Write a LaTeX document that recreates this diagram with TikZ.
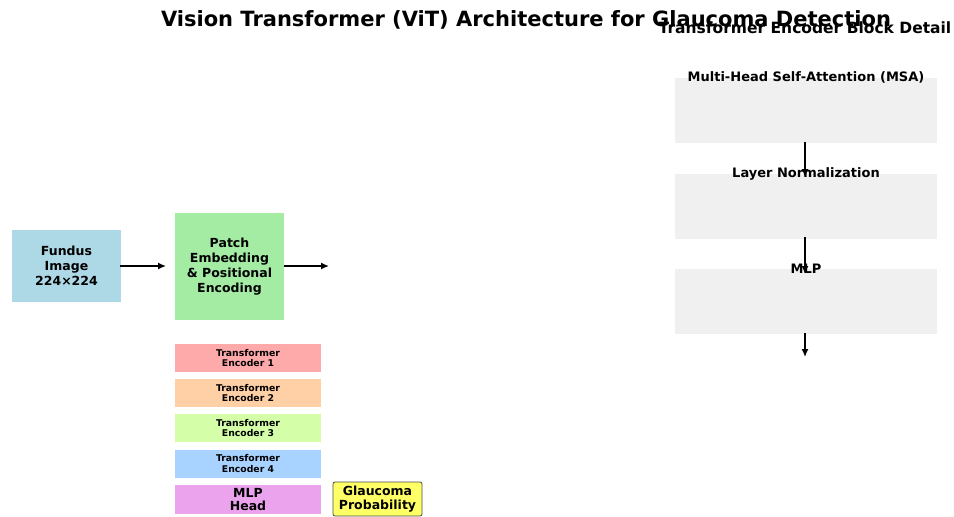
\documentclass[tikz,border=0pt]{standalone}
\usepackage{fontspec}
\setmainfont{DejaVu Sans}
\usetikzlibrary{arrows.meta}
\definecolor{fundus}{HTML}{ADD8E6}
\definecolor{patch}{HTML}{A4EBA4}
\definecolor{encA}{HTML}{FFAAAA}
\definecolor{encB}{HTML}{FFCFA6}
\definecolor{encC}{HTML}{D4FFA8}
\definecolor{encD}{HTML}{A8D2FF}
\definecolor{mlphead}{HTML}{EBA3EE}
\definecolor{prob}{HTML}{FFFF66}
\definecolor{blockgray}{HTML}{F0F0F0}
\tikzset{
  box/.style={draw=none, minimum width=#1, align=center, inner sep=0pt, font=\bfseries},
  enc/.style={box=146pt, minimum height=28pt, font=\bfseries\fontsize{9.3}{10.5}\selectfont},
  blk/.style={fill=blockgray, draw=none, minimum width=262pt, minimum height=65pt, inner sep=0pt},
  blklabel/.style={font=\bfseries\fontsize{13}{15}\selectfont},
  boxtext/.style={font=\bfseries\fontsize{12.5}{15}\selectfont},
  flow/.style={-{Latex[length=8pt,width=7pt]}, line width=1.4pt, black},
}
\begin{document}
\begin{tikzpicture}[x=1pt,y=-1pt]
\useasboundingbox (0,0) rectangle (954,517);

% main title and side panel title
\node[font=\bfseries\fontsize{21}{24}\selectfont] (title) at (526,20) {Vision Transformer (ViT) Architecture for Glaucoma Detection};
\node[font=\bfseries\fontsize{15.5}{18}\selectfont] (sidetitle) at (805,28) {Transformer Encoder Block Detail};

% input and embedding
\node[box=109pt, minimum height=72pt, fill=fundus, boxtext] (fundus) at (66.5,266) {Fundus\\Image\\224×224};
\node[box=109pt, minimum height=107pt, fill=patch, boxtext] (patch) at (229.5,266.5) {Patch\\Embedding\\\& Positional\\Encoding};
\coordinate (a1s) at (120,266);
\coordinate (a1e) at (166,266);
\coordinate (a2s) at (284,266);
\coordinate (a2e) at (329,266);
\draw[flow] (a1s) -- (a1e);
\draw[flow] (a2s) -- (a2e);

% encoder stack
\node[enc, fill=encA] (e1) at (248,358) {Transformer\\Encoder 1};
\node[enc, fill=encB] (e2) at (248,393) {Transformer\\Encoder 2};
\node[enc, fill=encC] (e3) at (248,428) {Transformer\\Encoder 3};
\node[enc, fill=encD] (e4) at (248,463.5) {Transformer\\Encoder 4};
\node[box=146pt, minimum height=29pt, fill=mlphead, font=\bfseries\fontsize{12.5}{13.5}\selectfont] (head) at (248,499.5) {MLP\\Head};
\node[draw=black!70, line width=0.8pt, rounded corners=2pt, fill=prob, minimum width=89pt, minimum height=34pt, align=center, inner sep=0pt, font=\bfseries\fontsize{12.5}{13.5}\selectfont] (prob) at (377.5,499) {Glaucoma\\Probability};

% encoder block detail
\node[blk] (msa) at (806,110.5) {};
\node[blk] (ln) at (806,206.5) {};
\node[blk] (mlp) at (806,301.5) {};
\node[blklabel] (msal) at (msa.north) {Multi-Head Self-Attention (MSA)};
\node[blklabel] (lnl) at (ln.north) {Layer Normalization};
\node[blklabel] (mlpl) at (mlp.north) {MLP};
\coordinate (b1s) at (805,142);
\coordinate (b1e) at (805,177);
\coordinate (b2s) at (805,237);
\coordinate (b2e) at (805,274);
\coordinate (b3s) at (805,333);
\coordinate (b3e) at (805,357);
\draw[flow] (b1s) -- (b1e);
\draw[flow] (b2s) -- (b2e);
\draw[flow] (b3s) -- (b3e);
\end{tikzpicture}
\end{document}
